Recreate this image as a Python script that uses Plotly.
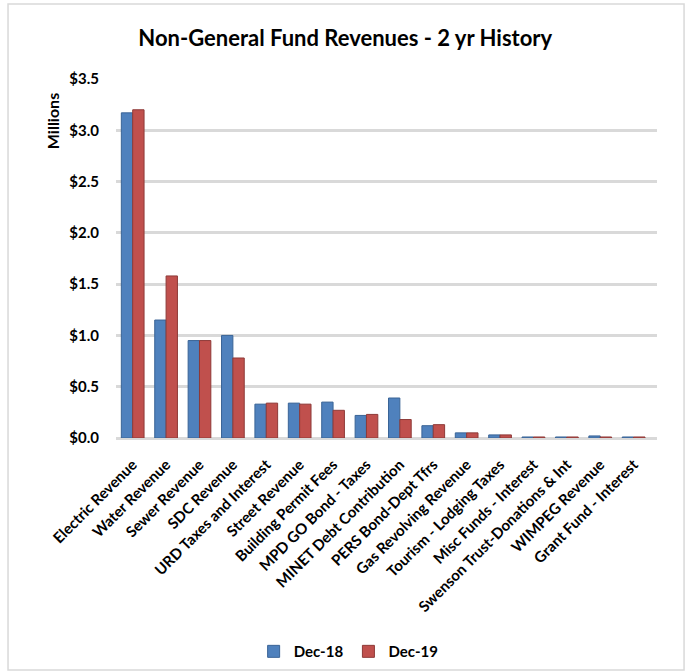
import plotly.graph_objects as go

categories = ["Electric Revenue", "Water Revenue", "Sewer Revenue", "SDC Revenue",
              "URD Taxes and Interest", "Street Revenue", "Building Permit Fees",
              "MPD GO Bond - Taxes", "MINET Debt Contribution", "PERS Bond-Dept Tfrs",
              "Gas Revolving Revenue", "Tourism - Lodging Taxes", "Misc Funds - Interest",
              "Swenson Trust-Donations & Int", "WIMPEG Revenue", "Grant Fund - Interest"]
dec18 = [3.17, 1.15, 0.95, 1.00, 0.33, 0.34, 0.35, 0.22, 0.39, 0.12, 0.05, 0.03, 0.01, 0.01, 0.02, 0.01]
dec19 = [3.20, 1.58, 0.95, 0.78, 0.34, 0.33, 0.27, 0.23, 0.18, 0.13, 0.05, 0.03, 0.01, 0.01, 0.01, 0.01]

FONT = "Lato"
fig = go.Figure()
fig.add_trace(go.Bar(x=categories, y=dec18, name="Dec-18",
                     marker=dict(color="#4F81BD", line=dict(color="#3A6496", width=1))))
fig.add_trace(go.Bar(x=categories, y=dec19, name="Dec-19",
                     marker=dict(color="#C0504D", line=dict(color="#8E3A38", width=1))))

fig.update_layout(
    width=685, height=672,
    margin=dict(l=116, r=28, t=79, b=234, autoexpand=False),
    paper_bgcolor="white", plot_bgcolor="white",
    barmode="group", bargap=0.32, bargroupgap=0.0,
    title=dict(text="<b>Non-General Fund Revenues - 2 yr History</b>",
               x=0.504, xanchor="center", y=0.943, yanchor="middle",
               font=dict(family=FONT, size=22, color="black")),
    font=dict(family=FONT, color="black"),
    showlegend=True,
    legend=dict(orientation="h", x=0.43, xanchor="center", y=-0.595, yanchor="middle",
                font=dict(family=FONT, size=15, color="black", weight="bold"),
                itemwidth=30, tracegroupgap=0, traceorder="normal"),
    xaxis=dict(tickangle=-45, tickfont=dict(family=FONT, size=15, color="black", weight="bold"),
               showgrid=False, showline=False, ticks="", range=[-0.5, 15.7],
               automargin=False, ticklabelstandoff=14),
    yaxis=dict(range=[0, 3.5], dtick=0.5, tickprefix="$", tickformat=".1f",
               tickfont=dict(family=FONT, size=15, color="black", weight="bold"),
               showgrid=True, gridcolor="#D9D9D9", gridwidth=3,
               zeroline=True, zerolinecolor="#D9D9D9", zerolinewidth=3,
               showline=False, ticks="", ticklabelstandoff=16, automargin=False),
)

fig.add_annotation(text="<b>Millions</b>", xref="paper", yref="paper",
                   x=-0.118, y=0.883, xanchor="center", yanchor="middle",
                   textangle=-90, showarrow=False,
                   font=dict(family=FONT, size=16, color="black"))

fig.add_shape(type="rect", xref="paper", yref="paper",
              x0=-0.1996, x1=1.05, y0=-0.646, y1=1.209,
              line=dict(color="#D9D9D9", width=1.5), fillcolor="rgba(0,0,0,0)")

fig.write_html("out.html")
